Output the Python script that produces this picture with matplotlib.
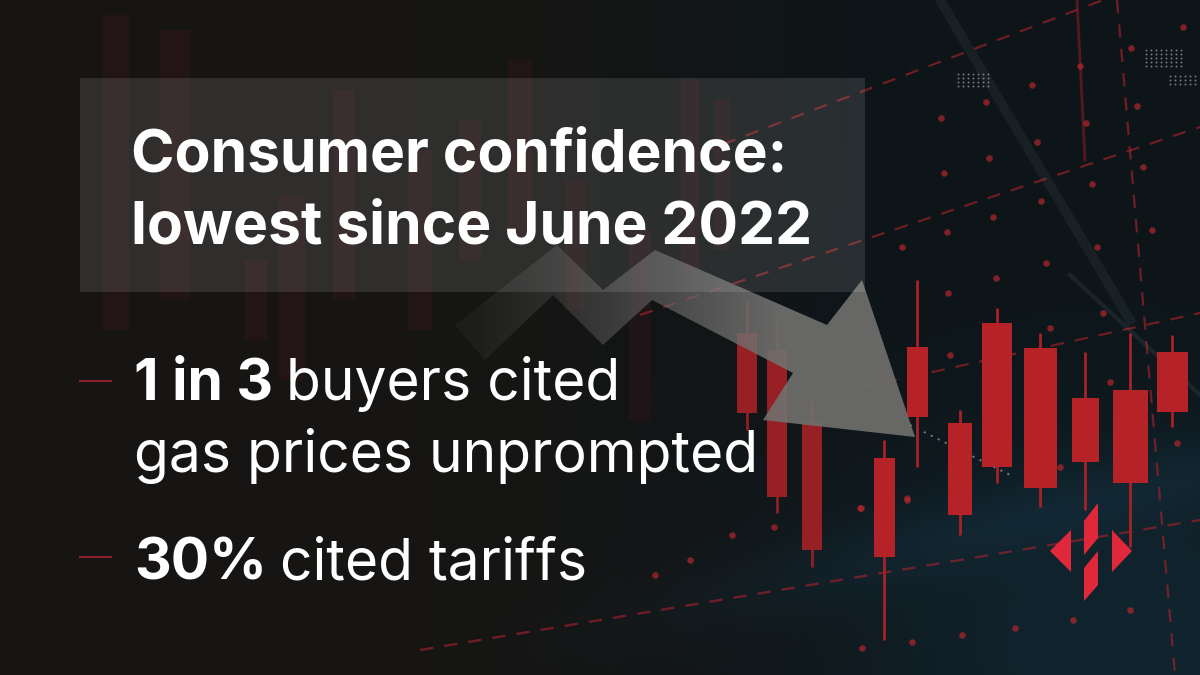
import numpy as np
import matplotlib.pyplot as plt
from matplotlib.patches import Rectangle, Polygon

W, H = 1200, 675

# ---- texte
title_lines = ["Consumer confidence:", "lowest since June 2022"]
bullet_bold = ["1 in 3", "", "30%"]
bullet_rest = ["buyers cited", "gas prices unprompted", "cited tariffs"]
bullet_y = [400, 472, 580]
dash_y = [381, 557]

# ---- chandeliers vifs (droite)
cx = [884, 917, 960, 997, 1040, 1085, 1130, 1172]
c_top = [458, 347, 423, 323, 348, 398, 390, 352]
c_bot = [557, 417, 515, 467, 488, 462, 483, 412]
c_w = [21, 21, 24, 30, 33, 27, 35, 31]
w_top = [440, 280, 410, 308, 333, 352, 333, 335]
w_bot = [640, 467, 535, 483, 507, 510, 547, 427]

# chandeliers sous la fleche
mx = [747, 777, 812]
m_top = [333, 350, 423]
m_bot = [413, 497, 550]
m_w = [20, 20, 20]
mw_top = [300, 320, 400]
mw_bot = [430, 513, 567]

# chandeliers tres sombres (gauche / derriere le cadre)
fx = [116, 175, 256, 292, 344, 420, 470, 520, 575, 640, 690, 722]
f_top = [15, 30, 260, 195, 90, 150, 120, 60, 180, 230, 80, 100]
f_bot = [330, 300, 340, 380, 300, 330, 260, 240, 310, 420, 270, 250]
f_w = [26, 30, 22, 26, 22, 24, 22, 24, 20, 22, 18, 16]

# points rouges
dot_x = [1032, 986, 941, 989, 944, 1041, 993, 947, 902, 1097, 1046, 996, 948,
         1086, 1080, 1137, 1131, 1183, 1143, 1152, 1092, 1037, 1103, 1050, 950,
         1110, 1060, 907, 1177, 861, 774, 962, 912, 862, 1015, 1073, 1130, 732,
         860, 907, 690, 655]
dot_y = [85, 102, 118, 158, 173, 201, 217, 232, 247, 247, 263, 278, 293,
         123, 66, 106, 48, 27, 167, 230, 184, 142, 313, 328, 355,
         382, 467, 498, 443, 508, 527, 635, 642, 648, 628, 620, 610, 535,
         508, 500, 560, 575]

# lignes pointillees rouges (x0, y0, x1, y1)
dashed = [(420, 650, 1200, 520),
          (640, 315, 1200, 127),
          (860, 388, 1200, 313),
          (700, 153, 1103, 0),
          (1117, 0, 1175, 675)]

# fleche grise
arrow_x = [455, 557, 603, 655, 827, 862, 915, 763, 793, 652, 603, 553, 485]
arrow_y = [325, 245, 290, 250, 325, 280, 437, 420, 373, 300, 345, 295, 360]

# logo
logo_parts = [
    [(1050, 551), (1071, 530), (1071, 572)],
    [(1132, 551), (1112, 530), (1112, 572)],
    [(1084, 521), (1098, 503), (1098, 538), (1084, 555)],
    [(1084, 568), (1098, 551), (1098, 585), (1084, 601)],
]

fig = plt.figure(figsize=(12, 6.75), dpi=100)
ax = fig.add_axes([0, 0, 1, 1])
ax.set_xlim(0, W)
ax.set_ylim(H, 0)
ax.axis('off')

# fond degrade
xx, yy = np.meshgrid(np.linspace(0, 1, W), np.linspace(0, 1, H))
t = np.clip((xx - 0.35) / 0.5, 0, 1)
t = t * t * (3 - 2 * t)
left = np.array([22, 21, 20]) / 255
right = np.array([13, 21, 25]) / 255
bg = left[None, None, :] * (1 - t[..., None]) + right[None, None, :] * t[..., None]
haze = np.exp(-(((xx - 0.95) / 0.25) ** 2 + ((yy - 0.95) / 0.3) ** 2))
bg = bg + haze[..., None] * np.array([4, 16, 22]) / 255
band = np.exp(-((yy - (0.95 - 0.45 * (xx - 0.45))) / 0.06) ** 2) * t
bg = bg + band[..., None] * np.array([2, 9, 13]) / 255
ax.imshow(np.clip(bg, 0, 1), extent=(0, W, H, 0), aspect='auto', zorder=0)

# chandeliers sombres
ax.bar(fx, np.subtract(f_bot, f_top), bottom=f_top, width=f_w,
       color='#6a1a1c', alpha=0.16, zorder=1)

# lignes pointillees
for x0, y0, x1, y1 in dashed:
    ax.plot([x0, x1], [y0, y1], color='#a3222a', lw=1.6, ls=(0, (6, 5)),
            alpha=0.65, zorder=2)
ax.plot([1077, 1085], [0, 160], color='#8a1d22', lw=2, alpha=0.6, zorder=2)

# points
ax.scatter(dot_x, dot_y, s=22, color='#b3262c', alpha=0.7, lw=0, zorder=2)

# trainees lumineuses
ax.plot([940, 1130], [0, 320], color='#9aa6aa', lw=7, alpha=0.08, zorder=2)
ax.plot([1070, 1200], [275, 395], color='#9aa6aa', lw=3, alpha=0.10, zorder=2)
ax.plot([910, 1010], [425, 475], color='#b8c4c8', lw=1.4, ls=(0, (1, 3)),
        alpha=0.6, zorder=3)

# petites grilles blanches
for gx, gy, nx, ny in [(958, 74, 7, 4), (1170, 76, 6, 3), (1146, 50, 8, 5)]:
    px, py = np.meshgrid(gx + np.arange(nx) * 5, gy + np.arange(ny) * 4)
    ax.scatter(px.ravel(), py.ravel(), s=2, color='#c8c8c8', alpha=0.55,
               lw=0, zorder=2)

# chandeliers
ax.vlines(mx, mw_top, mw_bot, color='#8e1f22', lw=2, zorder=3)
ax.bar(mx, np.subtract(m_bot, m_top), bottom=m_top, width=m_w,
       color='#962024', zorder=3)
ax.vlines(cx, w_top, w_bot, color='#a82126', lw=2, zorder=3)
ax.bar(cx, np.subtract(c_bot, c_top), bottom=c_top, width=c_w,
       color='#b52228', zorder=3)

# fleche avec opacite croissante
arrow = Polygon(list(zip(arrow_x, arrow_y)), closed=True, fc='none', ec='none')
ax.add_patch(arrow)
ramp = np.clip((np.linspace(0, W, W) - 460) / 320, 0, 1)
rgba = np.zeros((H, W, 4))
rgba[..., :3] = np.array([112, 112, 110]) / 255
rgba[..., 3] = 0.08 + 0.84 * ramp[None, :] ** 1.2
im = ax.imshow(rgba, extent=(0, W, H, 0), aspect='auto', zorder=4)
im.set_clip_path(arrow)

# cadre du titre
ax.add_patch(Rectangle((80, 78), 785, 214, fc='white', alpha=0.11, lw=0,
                       zorder=5))

ax.set_xlim(0, W)
ax.set_ylim(H, 0)

# textes
for line, y in zip(title_lines, [172, 243]):
    ax.text(131, y, line, fontsize=42.3, fontfamily='Inter',
            fontweight='bold', color='white', va='baseline', zorder=6)

fig.canvas.draw()
renderer = fig.canvas.get_renderer()
for b, r, y in zip(bullet_bold, bullet_rest, bullet_y):
    x = 134
    if b:
        tb = ax.text(x, y, b, fontsize=41, fontfamily='Inter', fontweight='bold',
                     color='white', va='baseline', zorder=6)
        x = tb.get_window_extent(renderer).x1 + 13
    ax.text(x, y, r, fontsize=41, fontfamily='Inter', fontweight='normal',
            color='white', va='baseline', zorder=6)

for y in dash_y:
    ax.plot([80, 111], [y, y], color='#8c2030', lw=1.5, zorder=6)

# logo
for part in logo_parts:
    ax.add_patch(Polygon(part, closed=True, fc='#e0283a', ec='none', zorder=6))

fig.savefig('out.png', dpi=100)
